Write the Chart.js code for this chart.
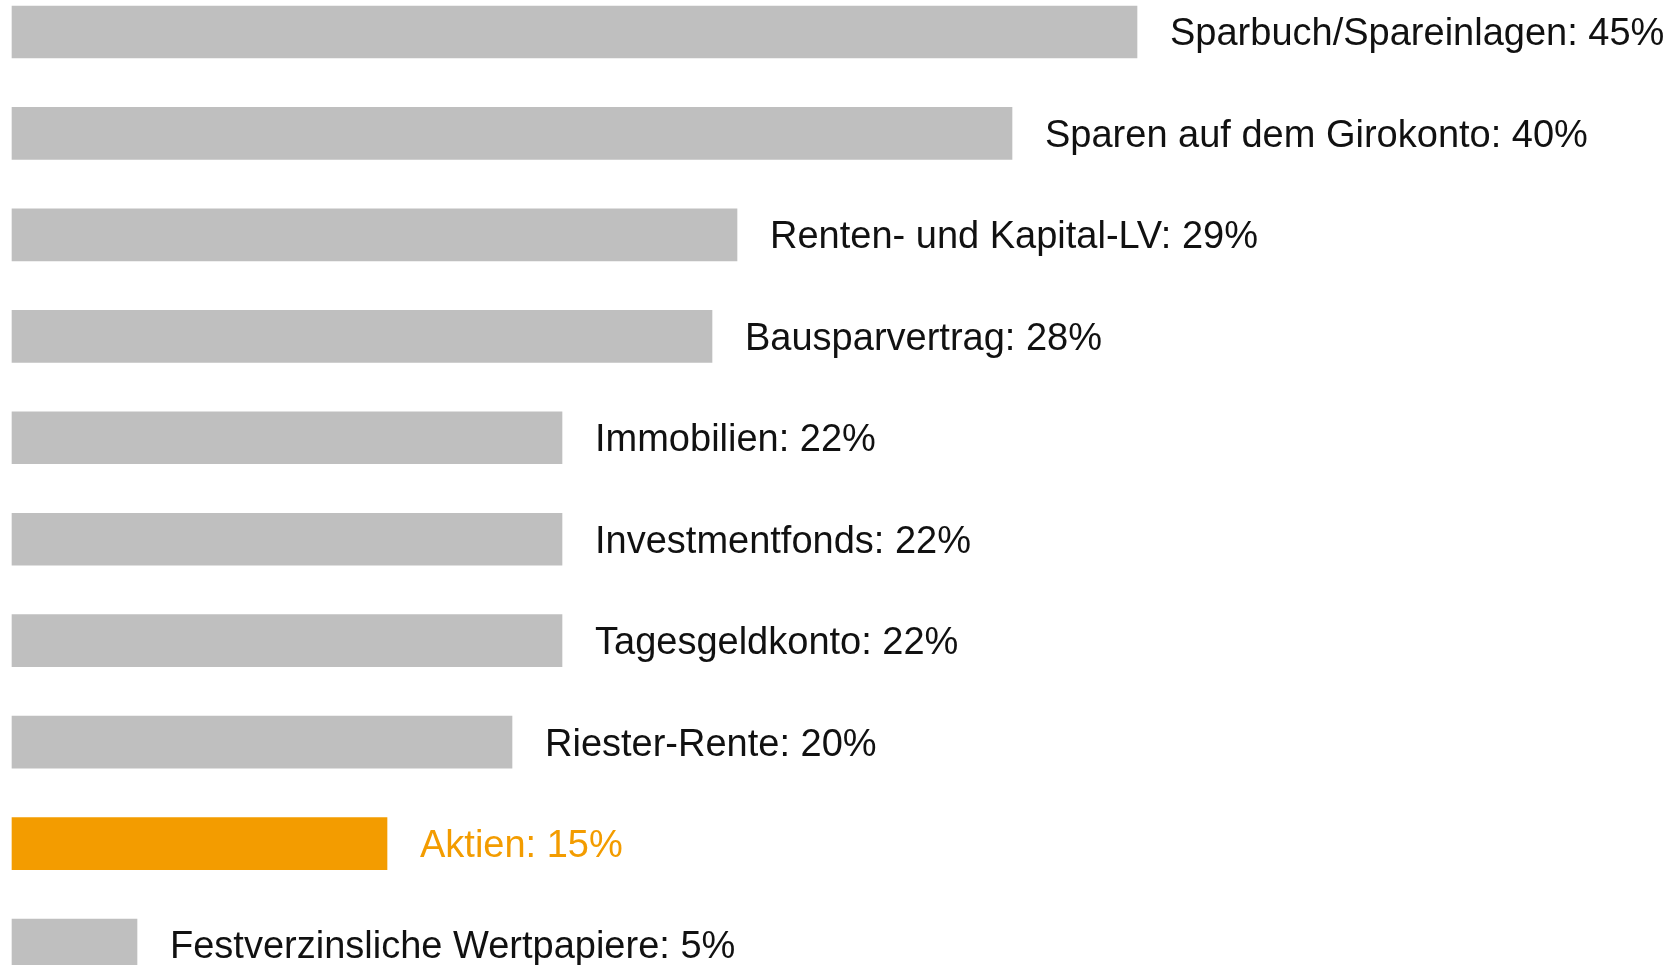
<!DOCTYPE html>
<html>
<head>
<meta charset="utf-8">
<script src="https://cdn.jsdelivr.net/npm/chart.js@4"></script>
<style>
  html, body { margin: 0; padding: 0; background: #fff; overflow: hidden; }
  #wrap { position: relative; width: 1671px; height: 965px; }
</style>
</head>
<body>
<div id="wrap"><canvas id="chart"></canvas></div>
<script>
// data
const categories = [
  "Sparbuch/Spareinlagen",
  "Sparen auf dem Girokonto",
  "Renten- und Kapital-LV",
  "Bausparvertrag",
  "Immobilien",
  "Investmentfonds",
  "Tagesgeldkonto",
  "Riester-Rente",
  "Aktien",
  "Festverzinsliche Wertpapiere"
];
const values = [45, 40, 29, 28, 22, 22, 22, 20, 15, 5];
const highlight = "Aktien";

const GREY = "#bfbfbf";
const ORANGE = "#f39c00";

const barColors = categories.map(c => (c === highlight ? ORANGE : GREY));
const textColors = categories.map(c => (c === highlight ? "#f39c00" : "#111111"));

// labels to the right of each bar
const endLabels = {
  id: "endLabels",
  afterDatasetsDraw(chart) {
    const ctx = chart.ctx;
    const meta = chart.getDatasetMeta(0);
    ctx.save();
    ctx.font = '38px "Liberation Sans", Arial, sans-serif';
    ctx.textAlign = "left";
    ctx.textBaseline = "middle";
    meta.data.forEach((bar, i) => {
      ctx.fillStyle = textColors[i];
      ctx.fillText(categories[i] + ": " + values[i] + "%", bar.x + 33, bar.y + 3);
    });
    ctx.restore();
  }
};

new Chart(document.getElementById("chart"), {
  type: "bar",
  data: {
    labels: categories,
    datasets: [{
      data: values,
      backgroundColor: barColors,
      borderWidth: 0,
      barThickness: 52,
      clip: false
    }]
  },
  options: {
    indexAxis: "y",
    responsive: true,
    maintainAspectRatio: false,
    animation: false,
    layout: { padding: { left: 12, right: 9, top: 32, bottom: 20 } },
    scales: {
      x: { display: false, min: 0, max: 66 },
      y: { display: false, offset: false, grid: { offset: false } }
    },
    plugins: {
      legend: { display: false },
      tooltip: { enabled: false }
    }
  },
  plugins: [endLabels]
});
</script>
</body>
</html>
